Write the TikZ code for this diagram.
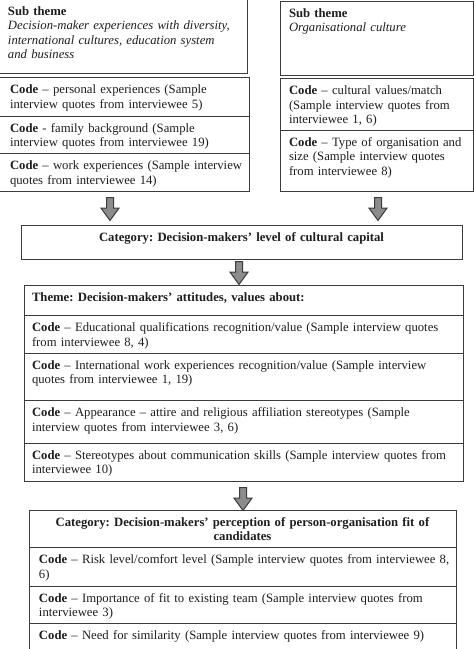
\documentclass[tikz,border=0pt]{standalone}
\usepackage{fontspec}
\setmainfont{Liberation Serif}
\usepackage{tikz}
\usetikzlibrary{positioning,shapes.arrows}
\definecolor{boxline}{HTML}{3C3C3C}
\definecolor{arrowfill}{HTML}{8C8C8C}
\definecolor{inktext}{HTML}{1E1E1E}
\frenchspacing

\begin{document}
\begin{tikzpicture}[x=1pt,y=-1pt,
        cell/.style={draw=boxline, line width=1pt, outer sep=0pt, inner xsep=1pt, inner ysep=6.5pt,
            text height=9.5pt, text=inktext, font=\fontsize{12.7}{14.6}\selectfont, anchor=north west},
        codecell/.style={cell, align=left, execute at begin node={\leftskip=#1\rightskip=-8pt plus 1fil\relax}},
        codecell/.default=8pt,
        catcell/.style={cell, align=center},
        downarrow/.style={single arrow, draw=boxline, line width=1pt, fill=arrowfill,
            shape border rotate=270, inner sep=3pt, minimum height=23pt,
            single arrow head extend=5.5pt, single arrow tip angle=72, anchor=tail}]
                \useasboundingbox (0,0) rectangle (474,649);
                \clip (0,0) rectangle (474,649);
                \fill[white] (0,0) rectangle (474,649);

                % left column
                \node[codecell=9pt, text width=247pt, text depth=52pt] (subL) at (-2,-1)
                    {\textbf{Sub theme}\\ \textit{Decision-maker experiences with diversity,}\\
                     \textit{international cultures, education system}\\ \textit{and business}};
                \node[codecell=11pt, text width=249pt, text depth=16pt, below right=4pt and 0pt of subL.south west] (codeL1)
                    {\textbf{Code} -- personal experiences (Sample\\ interview quotes from interviewee 5)};
                \node[codecell=11pt, text width=249pt, text depth=15pt, below=0pt of codeL1, anchor=north] (codeL2)
                    {\textbf{Code} - family background (Sample\\ interview quotes from interviewee 19)};
                \node[codecell=11pt, text width=249pt, text depth=15pt, below=0pt of codeL2, anchor=north] (codeL3)
                    {\textbf{Code} -- work experiences (Sample interview\\ quotes from interviewee 14)};

                % right column
                \node[codecell, text width=191pt, text depth=52pt] (subR) at (280,1)
                    {\textbf{Sub theme}\\ \textit{Organisational culture}};
                \node[codecell, text width=191pt, text depth=29pt, below=3pt of subR, anchor=north] (codeR1)
                    {\textbf{Code} -- cultural values/match\\ (Sample interview quotes from\\ interviewee 1, 6)};
                \node[codecell, text width=191pt, text depth=39pt, below=0pt of codeR1, anchor=north] (codeR2)
                    {\textbf{Code} -- Type of organisation and\\ size (Sample interview quotes\\ from interviewee 8)};

                \node[downarrow] (arrL) at (110,197) {};
                \node[downarrow] (arrR) at (378,197) {};

                \node[catcell, text width=439pt, text depth=12pt] (cat1) at (21,225)
                    {\textbf{Category: Decision-makers' level of cultural capital}};
                \node[downarrow] (arrC) at (239,261) {};

                % theme block
                \node[codecell=7pt, text width=437pt, text depth=8pt] (theme) at (24,285)
                    {\textbf{Theme: Decision-makers' attitudes, values about:}};
                \node[codecell=7pt, text width=437pt, text depth=15pt, below=0pt of theme, anchor=north] (themeC1)
                    {\textbf{Code} -- Educational qualifications recognition/value (Sample interview quotes\\ from interviewee 8, 4)};
                \node[codecell=7pt, text width=437pt, text depth=25pt, below=0pt of themeC1, anchor=north] (themeC2)
                    {\textbf{Code} -- International work experiences recognition/value (Sample interview\\ quotes from interviewee 1, 19)};
                \node[codecell=7pt, text width=437pt, text depth=20pt, below=0pt of themeC2, anchor=north] (themeC3)
                    {\textbf{Code} -- Appearance -- attire and religious affiliation stereotypes (Sample\\ interview quotes from interviewee 3, 6)};
                \node[codecell=7pt, text width=437pt, text depth=16pt, below=0pt of themeC3, anchor=north] (themeC4)
                    {\textbf{Code} -- Stereotypes about communication skills (Sample interview quotes from\\ interviewee 10)};
                \node[downarrow] (arrT) at (243,487) {};

                % fit block
                \node[catcell, text width=425pt, text depth=15pt] (cat2) at (29,510)
                    {\textbf{Category: Decision-makers' perception of person-organisation fit of}\\ \textbf{candidates}};
                \node[codecell=9pt, text width=425pt, text depth=16pt, below=0pt of cat2, anchor=north] (fitC1)
                    {\textbf{Code} -- Risk level/comfort level (Sample interview quotes from interviewee 8,\\ 6)};
                \node[codecell=9pt, text width=425pt, text depth=15pt, below=0pt of fitC1, anchor=north] (fitC2)
                    {\textbf{Code} -- Importance of fit to existing team (Sample interview quotes from\\ interviewee 3)};
                \node[codecell=9pt, text width=425pt, text depth=16pt, below=0pt of fitC2, anchor=north] (fitC3)
                    {\textbf{Code} -- Need for similarity (Sample interview quotes from interviewee 9)};
            \end{tikzpicture}
\end{document}
